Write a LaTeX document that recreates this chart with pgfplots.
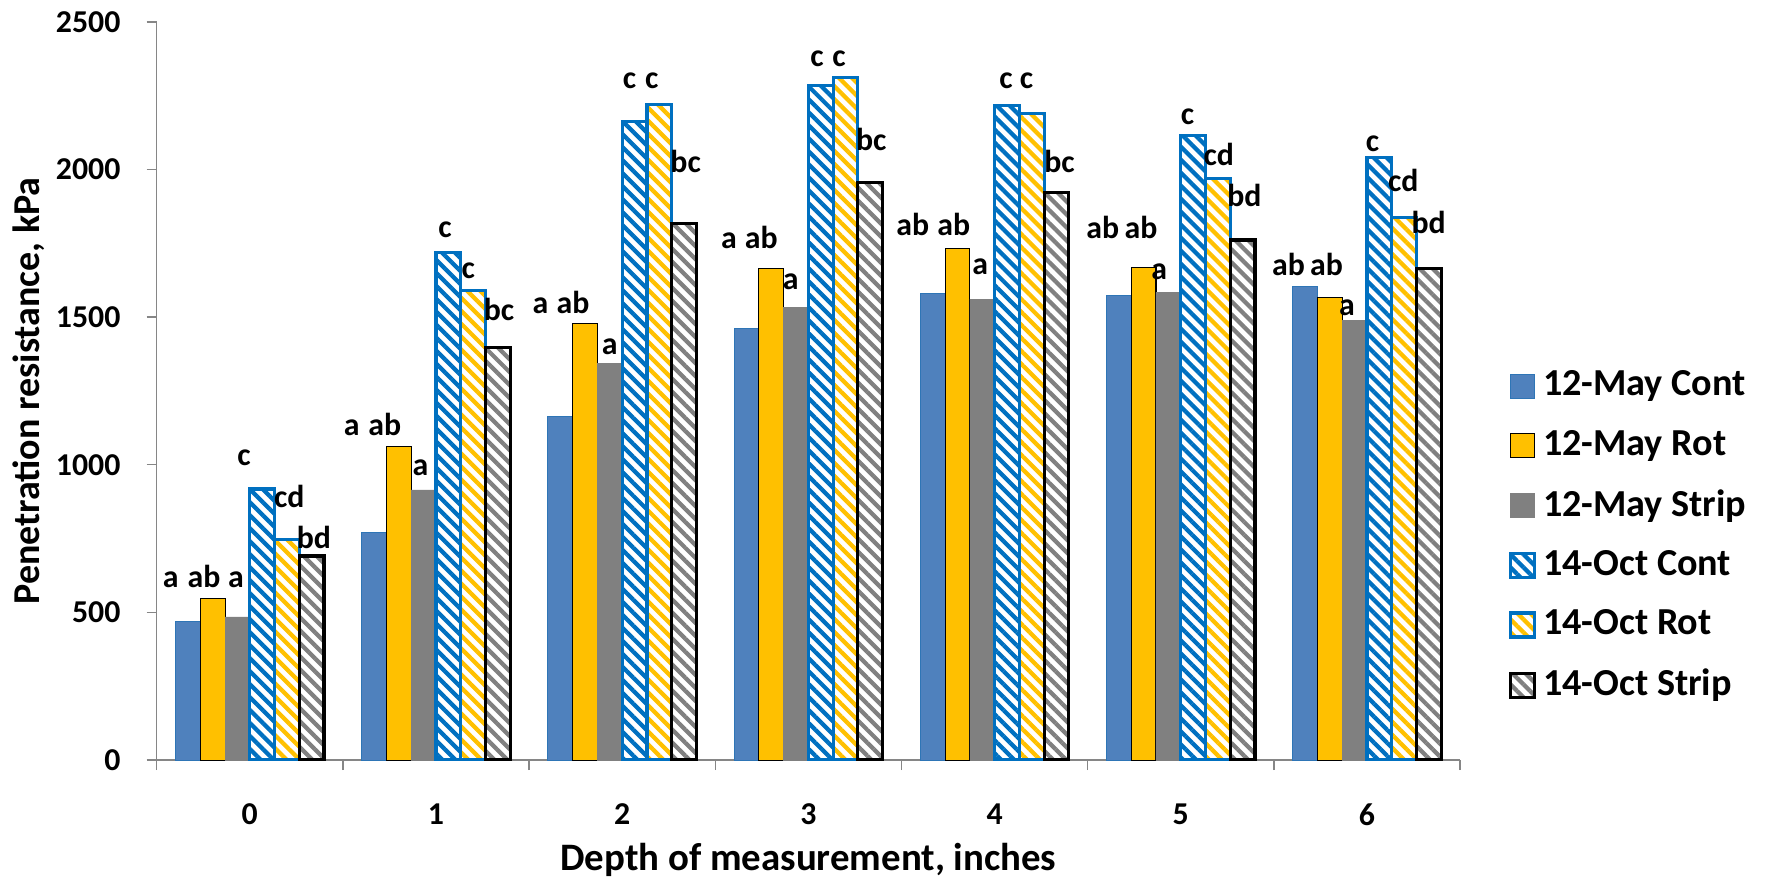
\documentclass[border=0pt]{standalone}
\usepackage{fontspec}
\setmainfont{Carlito}
\usepackage{pgfplots}
\pgfplotsset{compat=1.18}
\usetikzlibrary{patterns.meta}
\definecolor{mayblue}{HTML}{4F81BD}
\definecolor{mayedge}{HTML}{2E75B6}
\definecolor{gold}{HTML}{FFC000}
\definecolor{midgray}{HTML}{808080}
\definecolor{octblue}{HTML}{0070C0}
\definecolor{axgray}{HTML}{868686}
\pgfplotsset{
  mybar/.style={ybar, bar width=0.133, bar shift=#1,
    legend image code/.code={\draw[##1] (0pt,-3.4pt) rectangle (6.8pt,3.4pt);}},
  stripes/.style={pattern={Lines[angle=-45,distance=2.6pt,line width=1.2pt]}, pattern color=#1},
}
\tikzset{lab/.style={font=\bfseries\fontsize{9}{10}\selectfont, anchor=base, inner sep=0pt}}
\begin{document}
\begin{tikzpicture}[font=\bfseries]
\begin{axis}[name=ax, scale only axis, width=368.8pt, height=208.9pt,
  xmin=-0.5, xmax=6.5, ymin=0, ymax=2500,
  axis x line*=bottom, axis y line*=left,
  axis line style={axgray, line width=0.4pt, -},
  ytick={0,500,...,2500}, xtick={0,...,6}, minor xtick={-0.5,0.5,...,6.5},
  tick align=outside, major tick length=2.83pt, minor tick length=2.83pt,
  tick style={axgray, line width=0.4pt},
  major x tick style={draw=none},
  /pgf/number format/assume math mode=true,
  /pgf/number format/set thousands separator={},
  ticklabel style={font=\bfseries\fontsize{9}{10}\selectfont},
  xticklabel style={yshift=-6pt},
  yticklabel style={xshift=-3.9pt},
  xlabel={Depth of measurement, inches},
  ylabel={Penetration resistance, kPa},
  xlabel style={at={(axis description cs:0.5,-0.1354)}, anchor=center, font=\bfseries\fontsize{11}{13}\selectfont},
  ylabel style={at={(axis description cs:-0.098,0.5)}, anchor=center, font=\bfseries\fontsize{10.75}{12}\selectfont},
  legend style={at={(rel axis cs:1.0368,0.3034)}, anchor=west, draw=none, fill=none, inner sep=0pt,
    row sep=4.2pt, font=\bfseries\fontsize{10.8}{12}\selectfont},
  legend cell align=left,
]
\addplot[mybar=-0.3325, fill=mayblue, draw=mayedge, line width=0.3pt] coordinates
  {(0,468) (1,770) (2,1163) (3,1460) (4,1579) (5,1572) (6,1603)};
\addlegendentry{12-May Cont}
\addplot[mybar=-0.1995, fill=gold, draw=black, line width=0.3pt] coordinates
  {(0,548) (1,1063) (2,1478) (3,1664) (4,1733) (5,1668) (6,1567)};
\addlegendentry{12-May Rot}
\addplot[mybar=-0.0665, fill=midgray, draw=midgray, line width=0.1pt] coordinates
  {(0,485) (1,915) (2,1343) (3,1533) (4,1561) (5,1584) (6,1488)};
\addlegendentry{12-May Strip}
\addplot[mybar=0.0665, stripes=octblue, draw=octblue, line width=0.9pt] coordinates
  {(0,918) (1,1720) (2,2162) (3,2284) (4,2216) (5,2115) (6,2040)};
\addlegendentry{14-Oct Cont}
\addplot[mybar=0.1995, stripes=gold, draw=octblue, line width=0.9pt] coordinates
  {(0,748) (1,1590) (2,2221) (3,2311) (4,2190) (5,1970) (6,1838)};
\addlegendentry{14-Oct Rot}
\addplot[mybar=0.3325, stripes=midgray, draw=black, line width=0.9pt] coordinates
  {(0,691) (1,1398) (2,1816) (3,1957) (4,1922) (5,1761) (6,1666)};
\addlegendentry{14-Oct Strip}
% significance letters
\node[lab] at (axis cs:-0.425,585) {a};
\node[lab] at (axis cs:-0.246,585) {ab};
\node[lab] at (axis cs:-0.074,585) {a};
\node[lab] at (axis cs:-0.031,996) {c};
\node[lab] at (axis cs:0.212,856) {cd};
\node[lab] at (axis cs:0.344,718) {bd};
\node[lab] at (axis cs:0.547,1099) {a};
\node[lab] at (axis cs:0.725,1099) {ab};
\node[lab] at (axis cs:0.917,963) {a};
\node[lab] at (axis cs:1.048,1770) {c};
\node[lab] at (axis cs:1.173,1631) {c};
\node[lab] at (axis cs:1.339,1489) {bc};
\node[lab] at (axis cs:1.561,1511) {a};
\node[lab] at (axis cs:1.736,1511) {ab};
\node[lab] at (axis cs:1.933,1375) {a};
\node[lab] at (axis cs:2.040,2275) {c};
\node[lab] at (axis cs:2.159,2275) {c};
\node[lab] at (axis cs:2.341,1991) {bc};
\node[lab] at (axis cs:2.574,1731) {a};
\node[lab] at (axis cs:2.747,1731) {ab};
\node[lab] at (axis cs:2.905,1595) {a};
\node[lab] at (axis cs:3.046,2348) {c};
\node[lab] at (axis cs:3.164,2348) {c};
\node[lab] at (axis cs:3.338,2065) {bc};
\node[lab] at (axis cs:3.561,1777) {ab};
\node[lab] at (axis cs:3.781,1777) {ab};
\node[lab] at (axis cs:3.923,1646) {a};
\node[lab] at (axis cs:4.062,2275) {c};
\node[lab] at (axis cs:4.172,2275) {c};
\node[lab] at (axis cs:4.349,1991) {bc};
\node[lab] at (axis cs:4.581,1765) {ab};
\node[lab] at (axis cs:4.787,1765) {ab};
\node[lab] at (axis cs:4.885,1629) {a};
\node[lab] at (axis cs:5.037,2151) {c};
\node[lab] at (axis cs:5.204,2014) {cd};
\node[lab] at (axis cs:5.342,1873) {bd};
\node[lab] at (axis cs:5.579,1641) {ab};
\node[lab] at (axis cs:5.783,1641) {ab};
\node[lab] at (axis cs:5.893,1505) {a};
\node[lab] at (axis cs:6.030,2060) {c};
\node[lab] at (axis cs:6.195,1924) {cd};
\node[lab] at (axis cs:6.331,1782) {bd};
\end{axis}
\pgfresetboundingbox
\path[use as bounding box] ([xshift=-44.34pt,yshift=-32.82pt]ax.south west) rectangle ++(500pt,247.9pt);
\end{tikzpicture}
\end{document}
